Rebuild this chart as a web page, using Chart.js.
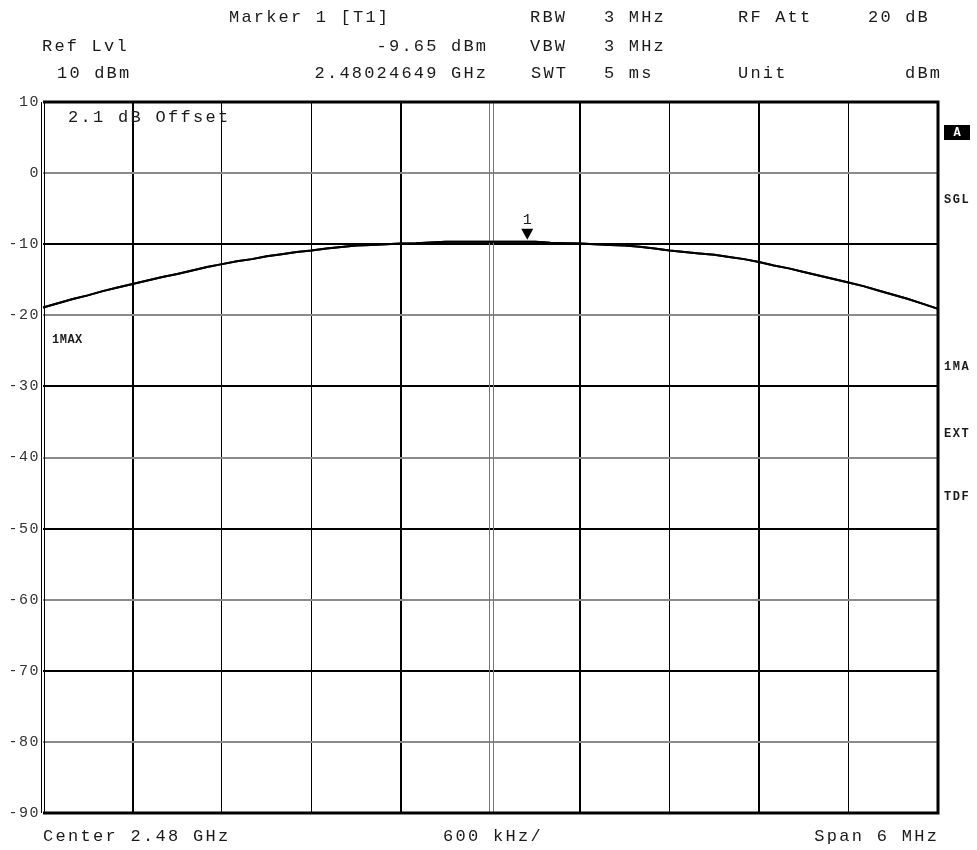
<!DOCTYPE html>
<html>
<head>
<meta charset="utf-8">
<script src="https://cdn.jsdelivr.net/npm/chart.js@4"></script>
<style>
  html, body { margin: 0; padding: 0; background: #fff; }
  #wrap { width: 977px; height: 850px; }
</style>
</head>
<body>
<div id="wrap"><canvas id="sa"></canvas></div>
<script>
// ── Trace data (frequency offset from 2.48 GHz centre, MHz / level, dBm) ──
const freqMHz = [
  -3.0, -2.9, -2.8, -2.7, -2.6, -2.5, -2.4, -2.3, -2.2, -2.1,
  -2.0, -1.9, -1.8, -1.7, -1.6, -1.5, -1.4, -1.3, -1.2, -1.1,
  -1.0, -0.9, -0.8, -0.7, -0.6, -0.5, -0.4, -0.3, -0.2, -0.1,
   0.0,  0.1,  0.2,  0.3,  0.4,  0.5,  0.6,  0.7,  0.8,  0.9,
   1.0,  1.1,  1.2,  1.3,  1.4,  1.5,  1.6,  1.7,  1.8,  1.9,
   2.0,  2.1,  2.2,  2.3,  2.4,  2.5,  2.6,  2.7,  2.8,  2.9, 3.0,
];
const levelDbm = [
  -18.9, -18.3, -17.7, -17.2, -16.6, -16.1, -15.6, -15.1, -14.6, -14.2,
  -13.7, -13.2, -12.8, -12.4, -12.1, -11.7, -11.4, -11.1, -10.9, -10.6,
  -10.4, -10.2, -10.1, -10.0,  -9.9, -9.85, -9.75, -9.65, -9.65, -9.65,
  -9.65, -9.65, -9.65, -9.65,  -9.8, -9.85,  -9.9, -10.0, -10.1, -10.2,
  -10.35, -10.6, -10.9, -11.1, -11.3, -11.5, -11.8, -12.1, -12.5, -13.0,
  -13.4, -13.9, -14.4, -14.9, -15.4, -15.9, -16.5, -17.1, -17.7, -18.4, -19.1,
];

// marker 1 [T1] : 2.48024649 GHz, -9.65 dBm
const markerFreqMHz = [0.24649];
const markerLevel   = [-9.65];

const yTicks = [10, 0, -10, -20, -30, -40, -50, -60, -70, -80, -90];
const xDivs  = [-3, -2.4, -1.8, -1.2, -0.6, 0, 0.6, 1.2, 1.8, 2.4, 3];

// header / footer annotation texts
const headerRows = [
  [['Marker 1 [T1]', 229, 'left'], ['RBW', 530, 'left'], ['3 MHz', 604, 'left'], ['RF Att', 738, 'left'], ['20 dB', 868, 'left']],
  [['Ref Lvl', 42, 'left'], ['-9.65 dBm', 486, 'right'], ['VBW', 530, 'left'], ['3 MHz', 604, 'left']],
  [['10 dBm', 57, 'left'], ['2.48024649 GHz', 486, 'right'], ['SWT', 531, 'left'], ['5 ms', 604, 'left'], ['Unit', 738, 'left'], ['dBm', 940, 'right']],
];
const footerTexts = [['Center 2.48 GHz', 43, 'left'], ['600 kHz/', 443, 'left'], ['Span 6 MHz', 937, 'right']];
const sideLabels = ['SGL', '1MA', 'EXT', 'TDF'];

const FONT = "'Liberation Mono', 'DejaVu Sans Mono', monospace";

function txt(ctx, s, x, y, align, size, spacing, weight) {
  ctx.save();
  ctx.font = (weight || 'normal') + ' ' + size + 'px ' + FONT;
  ctx.letterSpacing = spacing + 'px';
  ctx.textAlign = align;
  ctx.textBaseline = 'middle';
  ctx.fillStyle = '#1a1a1a';
  ctx.fillText(s, align === 'right' ? x + spacing : x, y);
  ctx.restore();
}

// ── Frame, centre line, marker and annotation texts ───────────────────────
const analyzerDecor = {
  id: 'analyzerDecor',
  beforeDraw(chart) { chart.ctx.letterSpacing = '1.5px'; },
  beforeDatasetsDraw(chart) { chart.ctx.letterSpacing = '0px'; },
  afterDraw(chart) {
    const { ctx, chartArea: a, scales: { x, y } } = chart;

    // centre graticule: grey double line
    const cx = Math.round(x.getPixelForValue(0));
    ctx.save();
    ctx.strokeStyle = '#777';
    ctx.lineWidth = 1;
    [-2, 2].forEach(d => {
      ctx.beginPath(); ctx.moveTo(cx + d + 0.5, a.top); ctx.lineTo(cx + d + 0.5, a.bottom); ctx.stroke();
    });

    // frame: thick top/right/bottom, double line left
    ctx.strokeStyle = '#000';
    ctx.lineWidth = 3;
    ctx.beginPath();
    ctx.moveTo(a.left, a.top); ctx.lineTo(a.right, a.top);
    ctx.lineTo(a.right, a.bottom); ctx.lineTo(a.left, a.bottom);
    ctx.stroke();
    ctx.lineWidth = 1;
    [a.left - 1.5, a.left + 1.5].forEach(px => {
      ctx.beginPath(); ctx.moveTo(px, a.top); ctx.lineTo(px, a.bottom); ctx.stroke();
    });
    ctx.restore();

    // redraw trace on top of the centre line
    const meta = chart.getDatasetMeta(0);
    ctx.save();
    ctx.strokeStyle = '#000';
    ctx.lineWidth = 2;
    ctx.beginPath();
    meta.data.forEach((p, i) => i ? ctx.lineTo(p.x, p.y) : ctx.moveTo(p.x, p.y));
    ctx.stroke();
    ctx.restore();

    // marker triangle + number
    markerFreqMHz.forEach((f, i) => {
      const mx = x.getPixelForValue(f);
      const my = y.getPixelForValue(markerLevel[i]);
      ctx.save();
      ctx.fillStyle = '#000';
      ctx.beginPath();
      ctx.moveTo(mx - 6, my - 13);
      ctx.lineTo(mx + 6, my - 13);
      ctx.lineTo(mx, my - 2);
      ctx.closePath();
      ctx.fill();
      ctx.restore();
      txt(ctx, String(i + 1), mx, my - 22, 'center', 15, 0);
    });

    // header rows
    const rowY = [17, 46, 73];
    headerRows.forEach((row, r) => row.forEach(([s, px, al]) => txt(ctx, s, px, rowY[r], al, 17, 2.2)));
    footerTexts.forEach(([s, px, al]) => txt(ctx, s, px, 836, al, 17, 2.3));

    // in-graticule labels
    txt(ctx, '2.1 dB Offset', 68, 117, 'left', 17, 2.3);
    txt(ctx, '1MAX', 52, 340, 'left', 12, 0.5, 'bold');

    // right side status labels
    ctx.save();
    ctx.fillStyle = '#000';
    ctx.fillRect(944, 125, 26, 15);
    ctx.font = 'bold 12px ' + FONT;
    ctx.fillStyle = '#fff';
    ctx.textAlign = 'center';
    ctx.textBaseline = 'middle';
    ctx.fillText('A', 957, 133);
    ctx.restore();
    const sideY = [200, 367, 434, 497];
    sideLabels.forEach((s, i) => txt(ctx, s, 944, sideY[i], 'left', 12, 1.5, 'bold'));
  },
};

const darkY = [-10, -30, -50, -70];
const darkXIdx = [1, 4, 6, 8];

new Chart(document.getElementById('sa'), {
  type: 'line',
  data: {
    datasets: [{
      data: freqMHz.map((f, i) => ({ x: f, y: levelDbm[i] })),
      borderColor: '#000',
      borderWidth: 2,
      pointRadius: 0,
      tension: 0,
    }],
  },
  options: {
    responsive: true,
    maintainAspectRatio: false,
    animation: false,
    events: [],
    layout: { padding: { top: 102, right: 39, bottom: 37, left: 0 } },
    plugins: { legend: { display: false }, tooltip: { enabled: false } },
    scales: {
      x: {
        type: 'linear',
        min: -3, max: 3,
        border: { display: false },
        afterBuildTicks: s => { s.ticks = xDivs.map(v => ({ value: v })); },
        afterFit: s => { s.height = 0; },
        ticks: { display: false },
        grid: {
          drawTicks: false,
          color: c => (c.index === 0 || c.index === 5 || c.index === 10) ? 'rgba(0,0,0,0)' : '#000',
          lineWidth: c => darkXIdx.includes(c.index) ? 2 : 1,
        },
      },
      y: {
        min: -90, max: 10,
        border: { display: false },
        afterBuildTicks: s => { s.ticks = yTicks.map(v => ({ value: v })); },
        afterFit: s => { s.width = 43; },
        ticks: {
          color: '#333',
          padding: 3,
          font: { family: FONT, size: 15 },
          callback: v => String(v),
        },
        grid: {
          drawTicks: false,
          color: c => darkY.includes(c.tick.value) ? '#000' : '#8a8a8a',
          lineWidth: 2,
        },
      },
    },
  },
  plugins: [analyzerDecor],
});
</script>
</body>
</html>
